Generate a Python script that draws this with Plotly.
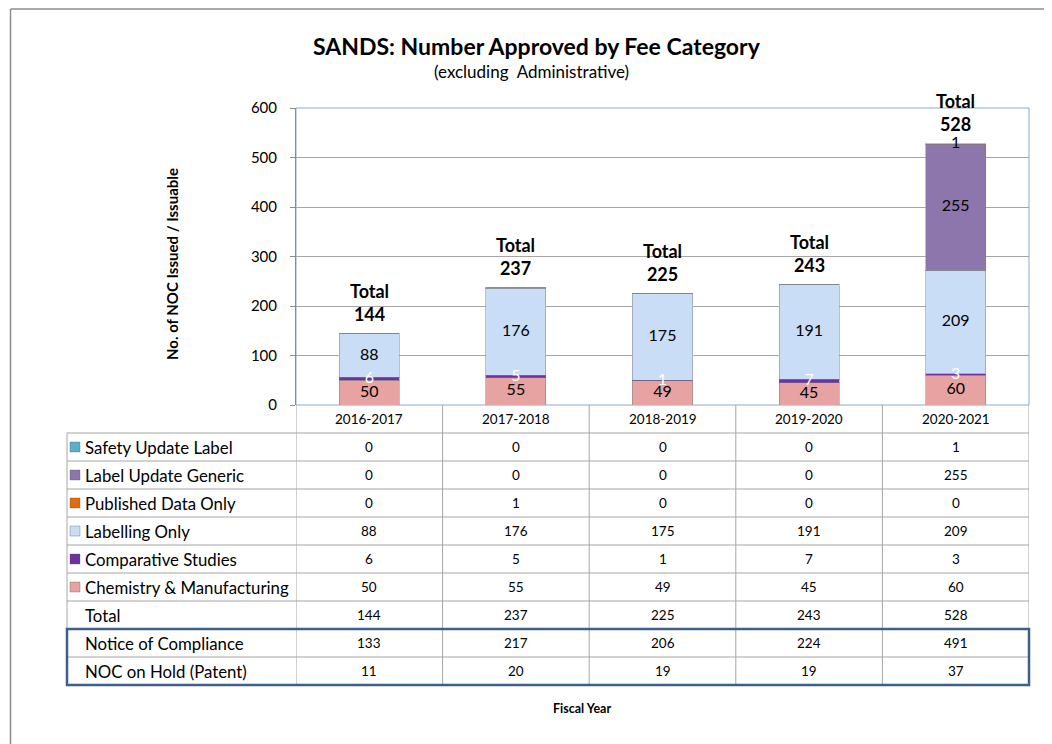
import plotly.graph_objects as go

# ---------------- data ----------------
years = ["2016-2017", "2017-2018", "2018-2019", "2019-2020", "2020-2021"]
chem_manuf = [50, 55, 49, 45, 60]
comparative = [6, 5, 1, 7, 3]
labelling_only = [88, 176, 175, 191, 209]
published_data = [0, 1, 0, 0, 0]
label_update_generic = [0, 0, 0, 0, 255]
safety_update = [0, 0, 0, 0, 1]
totals = [144, 237, 225, 243, 528]
notice_compliance = [133, 217, 206, 224, 491]
noc_on_hold = [11, 20, 19, 19, 37]

series_names = ["Chemistry & Manufacturing", "Comparative Studies", "Labelling Only",
                "Published Data Only", "Label Update Generic", "Safety Update Label"]
series_values = [chem_manuf, comparative, labelling_only, published_data,
                 label_update_generic, safety_update]
series_colors = ["#E6A3A1", "#7030A0", "#C9DDF6", "#E36C09", "#8C76AC", "#5BAFC8"]
label_colors = ["black", "white", "black", None, "black", "black"]

title_text = "SANDS: Number Approved by Fee Category"
subtitle_text = "(excluding  Administrative)"
y_title = "No. of NOC Issued / Issuable"
x_title = "Fiscal Year"
y_ticks = [0, 100, 200, 300, 400, 500, 600]

FONT = "Lato"

# ---------------- layout geometry (page pixels) ----------------
OFF = 8                       # default body margin of the html page
PAGE_W, PAGE_H = 1052, 744
W, H = PAGE_W - OFF, PAGE_H - OFF
PL, PR, PT, PB = 296, 1029, 108, 405   # plot area edges on the page
pw, ph = PR - PL, PB - PT


def px(x):
    return (x - PL) / pw


def py(y):
    return (PB - y) / ph


fig = go.Figure()

# stacked bars
for name, vals, col in zip(series_names, series_values, series_colors):
    fig.add_trace(go.Bar(
        x=years, y=vals, name=name, width=0.41,
        marker=dict(color=col, line=dict(color="rgba(120,120,120,0.45)", width=1)),
        showlegend=False, hoverinfo="x+y+name",
    ))

# data labels (text traces at the middle of each segment)
cum = [0] * len(years)
for name, vals, lc in zip(series_names, series_values, label_colors):
    xs, ys, ts = [], [], []
    for i, v in enumerate(vals):
        if v > 0 and lc is not None:
            xs.append(years[i])
            ys.append(cum[i] + v / 2)
            ts.append(str(v))
    cum = [c + v for c, v in zip(cum, vals)]
    if xs:
        fig.add_trace(go.Scatter(
            x=xs, y=ys, text=ts, mode="text", textposition="middle center",
            textfont=dict(family=FONT, size=16, color=lc),
            showlegend=False, hoverinfo="skip",
        ))

annotations = []
shapes = []

# totals above bars
for yr, t in zip(years, totals):
    annotations.append(dict(
        x=yr, y=t, xref="x", yref="y", text=f"<b>Total</b><br><b>{t}</b>",
        showarrow=False, xanchor="center", yanchor="bottom", yshift=7,
        font=dict(family=FONT, size=18, color="black"),
    ))


def pann(x, y, text, size, bold=False, xanchor="center", angle=0):
    annotations.append(dict(
        x=px(x), y=py(y), xref="paper", yref="paper",
        text=f"<b>{text}</b>" if bold else text, showarrow=False,
        xanchor=xanchor, yanchor="middle", textangle=angle,
        font=dict(family=FONT, size=size, color="black")))


# titles
pann(537, 46, title_text, 23, bold=True)
pann(531, 71, subtitle_text, 17)
pann(172, 264, y_title, 15, bold=True, angle=-90)
pann(582, 709, x_title, 12.5, bold=True)

# ---------------- data table ----------------
row_top = 433
row_h = 28
table_rows = [
    ("Safety Update Label", safety_update, "#5BAFC8"),
    ("Label Update Generic", label_update_generic, "#8C76AC"),
    ("Published Data Only", published_data, "#E36C09"),
    ("Labelling Only", labelling_only, "#C9DDF6"),
    ("Comparative Studies", comparative, "#7030A0"),
    ("Chemistry & Manufacturing", chem_manuf, "#E6A3A1"),
    ("Total", totals, None),
    ("Notice of Compliance", notice_compliance, None),
    ("NOC on Hold (Patent)", noc_on_hold, None),
]
TL = 67
grid_col = "#A6A6A6"

# header row (categories)
for yr in years:
    annotations.append(dict(x=yr, y=py((PB + row_top) / 2), xref="x", yref="paper",
                            text=yr, showarrow=False, xanchor="center", yanchor="middle",
                            font=dict(family=FONT, size=13.5, color="black")))

for r, (label, vals, col) in enumerate(table_rows):
    yc = row_top + row_h * r + row_h / 2
    pann(83, yc, label, 16.8, xanchor="left")
    for yr, v in zip(years, vals):
        annotations.append(dict(x=yr, y=py(yc), xref="x", yref="paper",
                                text=str(v), showarrow=False,
                                xanchor="center", yanchor="middle",
                                font=dict(family=FONT, size=13.5, color="black")))
    if col is not None:
        shapes.append(dict(type="rect", xref="paper", yref="paper",
                           x0=px(70), x1=px(80), y0=py(yc - 5), y1=py(yc + 5),
                           fillcolor=col, line=dict(color="rgba(90,90,90,0.5)", width=0.7)))

table_bottom = row_top + row_h * len(table_rows)
# horizontal lines
for r in range(len(table_rows) + 1):
    yl = row_top + row_h * r
    shapes.append(dict(type="line", xref="paper", yref="paper",
                       x0=px(TL), x1=px(PR), y0=py(yl), y1=py(yl),
                       line=dict(color=grid_col, width=1)))
# left table edge
shapes.append(dict(type="line", xref="paper", yref="paper",
                   x0=px(TL), x1=px(TL), y0=py(row_top), y1=py(table_bottom),
                   line=dict(color=grid_col, width=1)))
# vertical column dividers (category boundaries)
for k in range(len(years) + 1):
    shapes.append(dict(type="line", xref="x", yref="paper",
                       x0=k - 0.5, x1=k - 0.5, y0=py(PB), y1=py(table_bottom),
                       line=dict(color=grid_col, width=1)))
# dark blue box around the last two rows
shapes.append(dict(type="rect", xref="paper", yref="paper",
                   x0=px(TL), x1=px(PR), y0=py(row_top + row_h * 7), y1=py(table_bottom),
                   line=dict(color="#3E5F8A", width=2.5), fillcolor="rgba(0,0,0,0)"))

# plot area border (light blue)
shapes.append(dict(type="rect", xref="paper", yref="paper", x0=0, x1=1, y0=0, y1=1,
                   line=dict(color="#8EA9CC", width=1), layer="below"))
# outer chart border (top & left visible)
shapes.append(dict(type="line", xref="paper", yref="paper",
                   x0=px(10.5), x1=px(PAGE_W), y0=py(9), y1=py(9),
                   line=dict(color="#8C8C8C", width=1.5)))
shapes.append(dict(type="line", xref="paper", yref="paper",
                   x0=px(10.5), x1=px(10.5), y0=py(9), y1=py(PAGE_H),
                   line=dict(color="#8C8C8C", width=1.5)))

fig.update_layout(
    width=W, height=H,
    margin=dict(l=PL - OFF, r=PAGE_W - PR, t=PT - OFF, b=PAGE_H - PB, pad=0),
    barmode="stack",
    plot_bgcolor="white", paper_bgcolor="white",
    font=dict(family=FONT, color="black"),
    annotations=annotations, shapes=shapes,
    xaxis=dict(type="category", range=[-0.5, 4.5], showticklabels=False,
               showgrid=False, zeroline=False, showline=False, ticks=""),
    yaxis=dict(range=[0, 600], tickvals=y_ticks, showgrid=True,
               gridcolor="#A6A6A6", gridwidth=1, zeroline=False,
               showline=True, linecolor="#8C8C8C", linewidth=1,
               ticks="outside", ticklen=5, tickcolor="#8C8C8C",
               ticklabelstandoff=10,
               tickfont=dict(family=FONT, size=15, color="black")),
)

fig.write_html("out.html")
